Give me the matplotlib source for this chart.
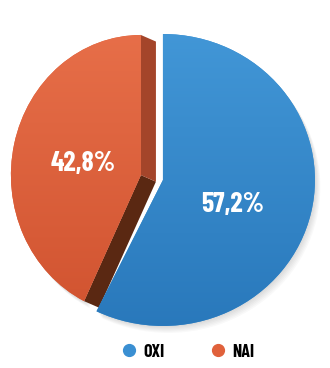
import numpy as np
import matplotlib.pyplot as plt
from matplotlib import font_manager
from matplotlib.colors import LinearSegmentedColormap
from matplotlib.lines import Line2D
from matplotlib.patches import Polygon, PathPatch
from matplotlib.transforms import Affine2D

labels = ["OXI", "NAI"]
shares = [57.2, 42.8]
colors = ["#3a8fd2", "#e0613b"]
face_top = ["#4398d8", "#e8704a"]
face_bottom = ["#2877ba", "#cf512e"]
side_colors = ["#a4452a", "#5a2812"]  # cut faces of the pulled-out slice

installed = {f.name for f in font_manager.fontManager.ttflist}
family = [n for n in ["Barlow Condensed", "Roboto Condensed", "Archivo Narrow"]
          if n in installed] + ["DejaVu Sans"]
plt.rcParams["font.family"] = family

fig = plt.figure(figsize=(3.30, 3.68), dpi=100)
ax = fig.add_axes([0, 0, 1, 1])

wedges, _ = ax.pie(shares, startangle=90, counterclock=False,
                   explode=[0, 0.149], colors=colors, radius=1.0)
ax.set_aspect("auto")

# the pulled-out slice is drawn a little narrower (perspective look)
orange = wedges[1]
cx, cy = orange.center
squeeze = Affine2D().translate(-cx, -cy).scale(0.855, 0.96).translate(cx, cy)
orange.set_transform(squeeze + ax.transData)


def edge_point(ang):
    a = np.deg2rad(ang)
    return np.array([cx + 0.855 * np.cos(a), cy + 0.96 * np.sin(a)])


vertex = np.array([cx, cy])
tip = edge_point(orange.theta2)
top = edge_point(orange.theta1)
off = np.array([0.099, -0.045])
ax.add_patch(Polygon([top, top + off, vertex + off, vertex],
                     closed=True, color=side_colors[0], zorder=0.6, lw=0))
ax.add_patch(Polygon([vertex, vertex + off, tip + off, tip],
                     closed=True, color=side_colors[1], zorder=0.5, lw=0))

# soft shadow under the pie
for w, tr in zip(wedges, [Affine2D(), squeeze]):
    for k in range(1, 7):
        shift = Affine2D().translate(0.006 * k, -0.008 * k)
        ax.add_patch(PathPatch(w.get_path(), transform=tr + shift + ax.transData,
                               facecolor="black", alpha=0.022, lw=0, zorder=0.2))

# gradient faces
for w, c0, c1 in zip(wedges, face_top, face_bottom):
    cmap = LinearSegmentedColormap.from_list("g", [c1, c0])
    grad = np.linspace(0, 1, 256).reshape(-1, 1)
    im = ax.imshow(grad, cmap=cmap, extent=(-1.3, 1.3, -1.1, 1.1),
                   origin="lower", aspect="auto", zorder=1.2)
    im.set_clip_path(w)

# value labels
label_pos = [(-20, 0.49), (168, 0.39)]
for w, v, (ang, dist) in zip(wedges, shares, label_pos):
    x0, y0 = w.center
    a = np.deg2rad(ang)
    ax.text(x0 + dist * np.cos(a), y0 + dist * np.sin(a),
            f"{v:.1f}".replace(".", ",") + "%", color="white",
            fontsize=20, fontweight="bold", ha="center", va="center", zorder=3)

ax.set_xlim(-1.072, 1.099)
ax.set_ylim(-1.288, 1.233)
ax.axis("off")

handles = [Line2D([], [], marker="o", linestyle="none", markersize=8.5,
                  markerfacecolor=c, markeredgecolor=c) for c in colors]
fig.legend(handles, labels, loc="center", bbox_to_anchor=(0.572, 0.043),
           ncol=2, frameon=False, handlelength=0.7, handletextpad=0.45,
           columnspacing=2.6, prop={"weight": "bold", "size": 13})

fig.savefig("out.png", dpi=100)
